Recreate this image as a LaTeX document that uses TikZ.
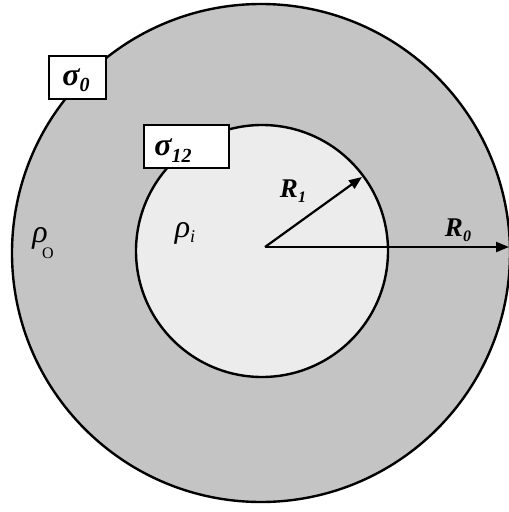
\documentclass[tikz,border=0pt]{standalone}
\usepackage{fontspec}
\setmainfont{Liberation Serif}
\usetikzlibrary{arrows.meta}
\begin{document}
\begin{tikzpicture}[x=1pt,y=-1pt,
  ring/.style={circle, draw=black, line width=2.4pt, inner sep=0pt},
  labelbox/.style={draw=black, fill=white, line width=1.6pt, inner sep=0pt},
  radius arrow/.style={line width=2.2pt, -{Triangle[length=13pt,width=10pt]}},
  bigsym/.style={font=\fontsize{32}{34}\selectfont\bfseries\itshape},
  rsym/.style={font=\fontsize{27}{29}\selectfont\bfseries\itshape},
  rhosym/.style={font=\fontsize{32}{34}\selectfont\itshape}]
\useasboundingbox (0,0) rectangle (509,512);
\node[ring, fill={rgb,255:red,196;green,196;blue,196}, minimum size=498pt] (outer) at (261,253) {};
\node[ring, fill={rgb,255:red,236;green,236;blue,236}, minimum size=252pt] (inner) at (262,251) {};
\node[labelbox, minimum width=57pt, minimum height=43pt] (s0box) at (77.5,77.5) {};
\node[labelbox, minimum width=85pt, minimum height=43pt] (s12box) at (186.5,146.5) {};
\node[bigsym] (s0) at (76,80) {σ\raisebox{-6pt}{\fontsize{20}{21}\selectfont\bfseries\itshape 0}};
\node[bigsym] (s12) at (173,151) {σ\raisebox{-7pt}{\fontsize{20}{21}\selectfont\bfseries\itshape 12}};
\coordinate (c) at (265,247);
\coordinate (r0) at (509,247);
\coordinate (r1) at (362,177);
\draw[radius arrow] (c) -- (r0);
\draw[radius arrow] (c) -- (r1);
\node[rsym] (R1) at (293,191) {R\raisebox{-5pt}{\fontsize{16}{17}\selectfont\bfseries\itshape 1}};
\node[rsym] (R0) at (458,230) {R\raisebox{-5pt}{\fontsize{16}{17}\selectfont\bfseries\itshape 0}};
\node[rhosym] (rhoi) at (185,233) {ρ\raisebox{-5pt}{\fontsize{18}{19}\selectfont\itshape i}};
\node[rhosym] (rhoo) at (40,238) {ρ};
\node[font=\fontsize{16}{17}\selectfont] (oo) at (48,253) {O};
\end{tikzpicture}
\end{document}
